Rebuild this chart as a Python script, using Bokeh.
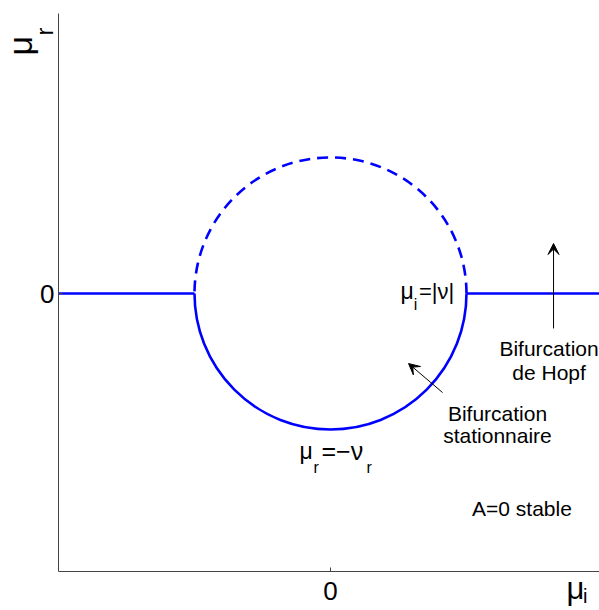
import math
from bokeh.plotting import figure
from bokeh.models import Label, Arrow, VeeHead, Range1d, FixedTicker
from bokeh.embed import file_html
from bokeh.resources import INLINE

# ---- data ----
nu_abs = 1.0          # mu_i = |nu| : half-width of the neutral curve
left_branch_x = [-2.0, -1.0]
right_branch_x = [1.0, 2.0]
branch_y = [0.0, 0.0]
x_ticks = [0]
y_ticks = [0]

# visible window (data units) and axis positions
X_MIN, X_MAX = -2.4265, 1.978
Y_MIN, Y_MAX = -2.3395, 2.1624
X_AXIS_AT = -2.0517      # y where the mu_i axis sits
Y_AXIS_AT = -2.0         # x where the mu_r axis sits
Y_AXIS_TOP = 2.0664

FONT = "Liberation Sans"
BLUE = "#0000ff"

p = figure(width=599, height=610, output_backend="svg", toolbar_location=None,
           x_range=Range1d(X_MIN, X_MAX), y_range=Range1d(Y_MIN, Y_MAX),
           min_border_left=0, min_border_right=0, min_border_top=0,
           min_border_bottom=0)
p.grid.visible = False
p.outline_line_color = None
p.background_fill_color = "white"
p.border_fill_color = "white"

for ax, ticks in ((p.xaxis[0], x_ticks), (p.yaxis[0], y_ticks)):
    ax.ticker = FixedTicker(ticks=ticks)
    ax.axis_line_color = "#444444"
    ax.major_tick_line_color = "#444444"
    ax.major_tick_in = 4
    ax.major_tick_out = 0
    ax.minor_tick_line_color = None
    ax.major_label_text_font = FONT
    ax.major_label_text_font_size = "26px"
    ax.major_label_text_color = "black"
p.xaxis.fixed_location = X_AXIS_AT
p.yaxis.fixed_location = Y_AXIS_AT
p.xaxis.bounds = (Y_AXIS_AT, X_MAX)
p.yaxis.bounds = (X_AXIS_AT, Y_AXIS_TOP)
p.xaxis.major_label_standoff = 10
p.yaxis.major_label_standoff = 4

# horizontal branches mu_r = 0
p.line(left_branch_x, branch_y, line_color=BLUE, line_width=2.6)
p.line(right_branch_x, branch_y, line_color=BLUE, line_width=2.6)
# circle: lower half solid, upper half dashed
p.arc(x=0, y=0, radius=nu_abs, start_angle=math.pi, end_angle=2 * math.pi,
      direction="anticlock", line_color=BLUE, line_width=2.6)
p.arc(x=0, y=0, radius=nu_abs, start_angle=0, end_angle=math.pi,
      direction="anticlock", line_color=BLUE, line_width=2.6, line_dash="11 7")


def lab(text, x, y, size, align="left", angle=0.0):
    p.add_layout(Label(x=x, y=y, text=text, text_font=FONT,
                       text_font_size=size, text_color="black",
                       text_align=align, text_baseline="alphabetic",
                       angle=angle))


# axis names
lab("μ", 1.735, -2.177, "31px")
lab("i", 1.857, -2.236, "20px")
lab("μ", -2.28, 1.757, "34px", angle=math.pi / 2)
lab("r", -2.103, 1.904, "24px", angle=math.pi / 2)

# mu_i = |nu|
lab("μ", 0.515, 0.015, "23px")
lab("i", 0.612, -0.081, "16px")
lab("=|ν|", 0.650, 0.015, "22px")

# mu_r = -nu_r
lab("μ", -0.228, -1.159, "23px")
lab("r", -0.125, -1.284, "16px")
lab("=−ν", -0.066, -1.159, "25px")
lab("r", 0.265, -1.284, "16px")

# annotations
lab("Bifurcation", 1.607, -0.406, "21px", align="center")
lab("de Hopf", 1.607, -0.583, "21px", align="center")
lab("Bifurcation", 1.228, -0.886, "21px", align="center")
lab("stationnaire", 1.228, -1.048, "21px", align="center")
lab("A=0 stable", 1.408, -1.587, "21px", align="center")

p.add_layout(Arrow(end=VeeHead(size=11, fill_color="black", line_color="black"),
                   x_start=1.640, y_start=-0.258, x_end=1.640, y_end=0.369,
                   line_color="black", line_width=1))
p.add_layout(Arrow(end=VeeHead(size=11, fill_color="black", line_color="black"),
                   x_start=0.824, y_start=-0.731, x_end=0.574, y_end=-0.517,
                   line_color="black", line_width=1))

open("out.html", "w").write(file_html(p, INLINE))
